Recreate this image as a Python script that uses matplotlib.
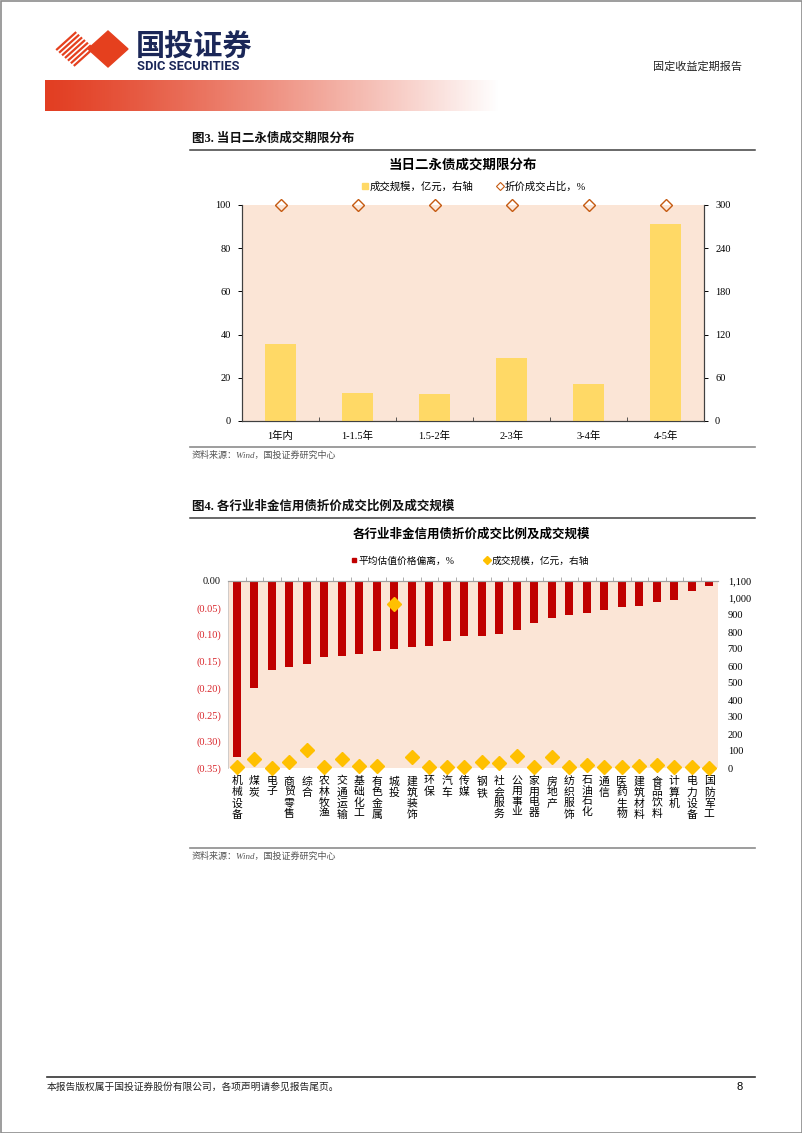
import numpy as np
import matplotlib
matplotlib.use('Agg')
import matplotlib.pyplot as plt
from matplotlib.lines import Line2D
from matplotlib.patches import Polygon, Rectangle

plt.rcParams['font.family'] = ['Liberation Serif', 'Noto Sans CJK SC', 'DejaVu Sans']
plt.rcParams['axes.unicode_minus'] = False

# --- données graphique 3 :期限分布
tenors = ['1年内', '1-1.5年', '1.5-2年', '2-3年', '3-4年', '4-5年']
tenor_volume = [106.5, 38.5, 37.5, 87.0, 51.8, 273.6]      # 亿元, axe droit
tenor_discount = [100, 100, 100, 100, 100, 100]             # %

# --- données graphique 4 : 行业
industries = ['机械设备', '煤炭', '电子', '商贸零售', '综合', '农林牧渔', '交通运输',
              '基础化工', '有色金属', '城投', '建筑装饰', '环保', '汽车', '传媒',
              '钢铁', '社会服务', '公用事业', '家用电器', '房地产', '纺织服饰',
              '石油石化', '通信', '医药生物', '建筑材料', '食品饮料', '计算机',
              '电力设备', '国防军工']
price_dev = [-0.330, -0.200, -0.167, -0.161, -0.155, -0.143, -0.141,
             -0.137, -0.131, -0.127, -0.124, -0.121, -0.113, -0.103,
             -0.103, -0.100, -0.091, -0.079, -0.070, -0.064,
             -0.059, -0.055, -0.049, -0.046, -0.040, -0.035,
             -0.019, -0.009]
ind_volume = [4, 55, 2, 33, 106, 8, 55, 14, 14, 966, 65, 8, 8, 4,
              35, 29, 71, 6, 65, 4, 16, 4, 6, 14, 20, 4, 4, 2]

W, H = 802, 1133
fig = plt.figure(figsize=(W / 100, H / 100), dpi=100)


def box(x0, y0, x1, y1):
    # coordonnées pixels (origine en haut à gauche) -> coordonnées figure
    return [x0 / W, 1 - y1 / H, (x1 - x0) / W, (y1 - y0) / H]


# --- page (en-tête, pied de page, titres)
page = fig.add_axes([0, 0, 1, 1])
page.axis('off')

grad = np.zeros((1, 300, 4))
grad[..., 0], grad[..., 1], grad[..., 2] = 0.89, 0.24, 0.13
grad[..., 3] = np.clip(1 - np.linspace(0, 1, 300) ** 1.2, 0, 1)
page.imshow(grad, extent=(45, 500, 111, 80), aspect='auto', interpolation='bicubic')

# logo
red = '#E5401E'
for t in np.linspace(0.06, 0.94, 7):
    page.plot([55 + 20 * t, 75 + 20 * t], [49 + 18 * t, 31 + 18 * t], color=red, lw=1.6,
              solid_capstyle='butt')
page.add_patch(Polygon([(88, 49), (108, 31), (128, 49), (108, 67)], closed=True, color=red))
page.text(136, 47, '国投证券', fontsize=21, weight='bold', color='#1B2758',
          family=['Noto Sans CJK SC'], va='center', ha='left')
page.text(137, 67, 'SDIC SECURITIES', fontsize=9.3, weight='bold', color='#1B2758',
          family=['Roboto'], va='center', ha='left')
page.text(697, 67, '固定收益定期报告', fontsize=8, color='#222222', va='center', ha='center')

page.add_patch(Rectangle((0.5, 0.5), W - 1, H - 1, fill=False, ec='#8C8C8C', lw=1.2))

# titres de section
for y_txt, y_line, txt in [(139, 150, '图3. 当日二永债成交期限分布'),
                           (507, 518, '图4. 各行业非金信用债折价成交比例及成交规模')]:
    page.text(192, y_txt, txt, fontsize=9, weight='bold', color='#111111', va='center', ha='left')
    page.plot([190, 755], [y_line, y_line], color='#404040', lw=1.1)

for y_line in [447, 848]:
    page.plot([190, 755], [y_line, y_line], color='#8C8C8C', lw=1.2)
    page.text(192, y_line + 8, '资料来源：Wind，国投证券研究中心', fontsize=6.5, style='italic',
              color='#555555', va='center', ha='left')

page.plot([47, 755], [1077, 1077], color='#333333', lw=1.2)
page.text(47, 1087, '本报告版权属于国投证券股份有限公司，各项声明请参见报告尾页。', fontsize=7,
          color='#222222', va='center', ha='left')
page.text(740, 1087, '8', fontsize=8, family=['Liberation Sans'], va='center', ha='center')

page.set_xlim(0, W)
page.set_ylim(H, 0)

# --- graphique 3
peach = '#FBE5D6'
ax1 = fig.add_axes(box(242, 205, 704, 421))
ax1.set_facecolor(peach)
ax1r = ax1.twinx()
x1 = np.arange(len(tenors))
ax1r.bar(x1, tenor_volume, width=0.4, color='#FFD966', zorder=2)
ax1.plot(x1, tenor_discount, ls='none', marker='D', ms=6, mfc='none', mec='#C55A11',
         mew=1, clip_on=False, zorder=5)
ax1.set_xlim(-0.5, len(tenors) - 0.5)
ax1.set_ylim(0, 100)
ax1r.set_ylim(0, 300)
ax1.set_yticks(np.arange(0, 101, 20))
ax1r.set_yticks(np.arange(0, 301, 60))
ax1.set_xticks(x1)
ax1.set_xticklabels(tenors)
ax1.set_xticks(np.arange(0.5, len(tenors) - 0.5, 1), minor=True)
ax1.tick_params(axis='x', which='major', length=0, pad=7, labelsize=7.5)
ax1.tick_params(axis='x', which='minor', length=3, direction='in', color='#404040')
ax1.tick_params(axis='y', length=3, width=0.7, pad=5, labelsize=7.5)
ax1r.tick_params(axis='y', length=3, width=0.7, pad=5, labelsize=7.5)
for a in (ax1, ax1r):
    a.spines['top'].set_visible(False)
    for s in ('left', 'right', 'bottom'):
        a.spines[s].set_color('#404040')
        a.spines[s].set_linewidth(0.8)

fig.text(463 / W, 1 - 165 / H, '当日二永债成交期限分布', fontsize=9.7, weight='bold',
         ha='center', va='center')
h1 = [Line2D([], [], ls='none', marker='s', ms=4, color='#FFD966'),
      Line2D([], [], ls='none', marker='D', ms=4, mfc='none', mec='#C55A11', mew=0.8)]
fig.legend(h1, ['成交规模，亿元，右轴', '折价成交占比，%'], loc='center',
           bbox_to_anchor=(474 / W, 1 - 187 / H), ncol=2, frameon=False, fontsize=7.5,
           handlelength=0.6, handletextpad=0.2, columnspacing=2.2)

# --- graphique 4
ax2 = fig.add_axes(box(228, 581, 718, 768))
ax2.set_facecolor(peach)
x2 = np.arange(len(industries))
ax2.bar(x2, price_dev, width=0.45, color='#C00000', zorder=2)
ax2.set_xlim(-0.5, len(industries) - 0.5)
ax2.set_ylim(-0.35, 0)
yt = np.round(np.arange(-0.35, 0.001, 0.05), 2)
ax2.set_yticks(yt)
ax2.set_yticklabels(['0.00' if v == 0 else f'({abs(v):.2f})' for v in yt])
for lab, v in zip(ax2.get_yticklabels(), yt):
    lab.set_color('#111111' if v == 0 else '#D9262B')
ax2.set_xticks(x2)
ax2.set_xticklabels(['\n'.join(n) for n in industries])
for lab in ax2.get_xticklabels():
    lab.set_linespacing(1.12)
ax2.set_xticks(np.arange(0.5, len(industries) - 0.5, 1), minor=True)
ax2.tick_params(axis='x', which='major', length=0, pad=6, labelsize=7.8)
ax2.xaxis.set_tick_params(which='minor', bottom=False, top=True, length=3, direction='out',
                          color='#A0A0A0')
ax2.tick_params(axis='y', length=0, pad=5, labelsize=7.5)

ax2r = ax2.twinx()
ax2r.plot(x2, ind_volume, ls='none', marker='D', ms=7.5, color='#FFC000', mec='#FFC000',
          clip_on=False, zorder=5)
ax2r.set_ylim(0, 1100)
ax2r.set_yticks(np.arange(0, 1101, 100))
ax2r.set_yticklabels([f'{v:,}' for v in range(0, 1101, 100)])
ax2r.tick_params(axis='y', length=0, pad=7, labelsize=7.5)
for a in (ax2, ax2r):
    for s in ('right', 'bottom', 'left'):
        a.spines[s].set_visible(False)
    a.spines['top'].set_color('#A0A0A0')
    a.spines['top'].set_linewidth(0.8)
ax2.spines['left'].set_visible(True)
ax2.spines['left'].set_color('#C8C8C8')
ax2.spines['left'].set_linewidth(0.6)

fig.text(471 / W, 1 - 535 / H, '各行业非金信用债折价成交比例及成交规模', fontsize=9, weight='bold',
         ha='center', va='center')
h2 = [Line2D([], [], ls='none', marker='s', ms=3.5, color='#C00000'),
      Line2D([], [], ls='none', marker='D', ms=4.5, color='#FFC000')]
fig.legend(h2, ['平均估值价格偏离，%', '成交规模，亿元，右轴'], loc='center',
           bbox_to_anchor=(470 / W, 1 - 561 / H), ncol=2, frameon=False, fontsize=7,
           handlelength=0.6, handletextpad=0.2, columnspacing=3.0)

fig.savefig('out.png', dpi=100)
